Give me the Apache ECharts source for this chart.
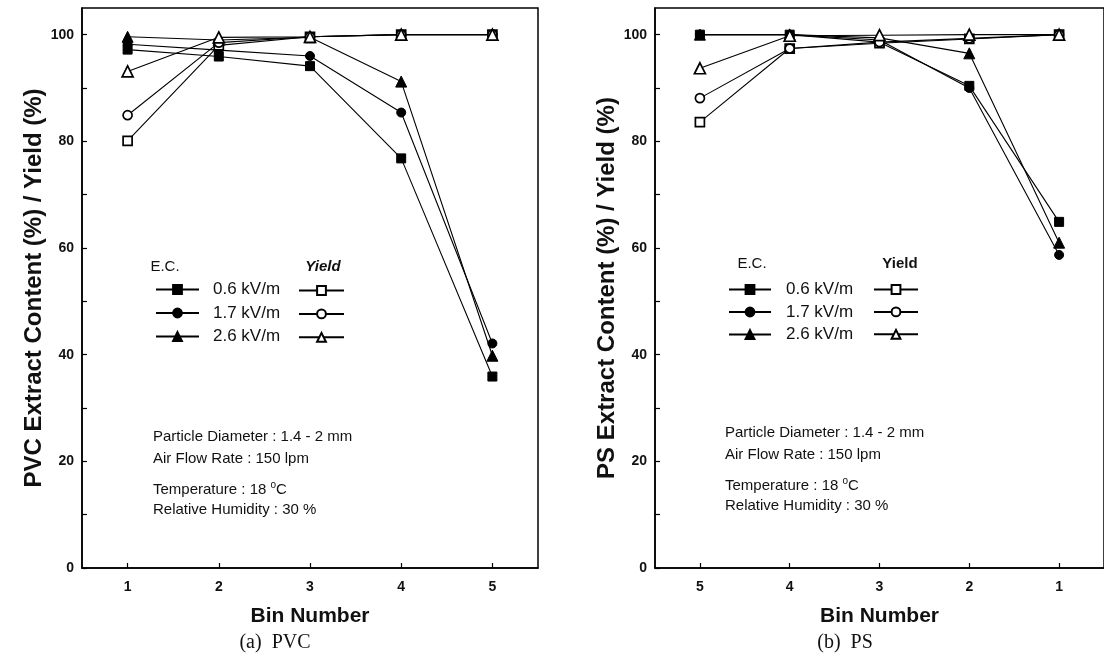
<!DOCTYPE html>
<html>
<head>
<meta charset="utf-8">
<script src="https://cdn.jsdelivr.net/npm/echarts@6/dist/echarts.min.js"></script>
<style>
  html, body { margin: 0; padding: 0; background: #fff; }
  #chart { width: 1104px; height: 663px; }
</style>
</head>
<body>
<div id="chart"></div>
<script>
// bin numbers and tick values
const bins = [1, 2, 3, 4, 5];
const yLabelValues = [0, 20, 40, 60, 80, 100];
const yTickValues = [0, 10, 20, 30, 40, 50, 60, 70, 80, 90, 100];

// (a) PVC, values for bin 1..5
const pvcEc06 = [97.2, 95.9, 94.1, 76.8, 35.9];
const pvcEc17 = [98.2, 97.1, 96.0, 85.4, 42.1];
const pvcEc26 = [99.6, 99.0, 99.5, 91.2, 39.8];
const pvcYield06 = [80.1, 98.0, 99.6, 100, 100];
const pvcYield17 = [84.9, 98.5, 99.6, 100, 100];
const pvcYield26 = [93.1, 99.5, 99.6, 100, 100];

// (b) PS, values for bin 1..5 (axis drawn 5 -> 1)
const psEc06 = [64.9, 90.4, 98.6, 100, 100];
const psEc17 = [58.7, 90.0, 99.0, 100, 100];
const psEc26 = [61.0, 96.5, 99.4, 100, 100];
const psYield06 = [100, 99.2, 98.4, 97.4, 83.6];
const psYield17 = [100, 99.3, 98.6, 97.4, 88.1];
const psYield26 = [100, 100, 99.9, 99.8, 93.7];

const ecNames = ['0.6 kV/m', '1.7 kV/m', '2.6 kV/m'];
const yieldNames = ['Yield 0.6', 'Yield 1.7', 'Yield 2.6'];
const symbols = ['rect', 'circle', 'triangle'];

const FONT = "'Liberation Sans', Arial, Helvetica, sans-serif";

const toPoints = arr => bins.map((b, i) => [b, arr[i]]);

const makeSeries = (name, arr, idx, filled, axisIdx) => ({
    name: name,
    type: 'line',
    xAxisIndex: axisIdx,
    yAxisIndex: axisIdx,
    data: toPoints(arr),
    symbol: symbols[idx],
    symbolSize: idx === 2 ? 11 : 9,
    showAllSymbol: true,
    lineStyle: { color: '#000', width: 1.1 },
    itemStyle: filled
        ? { color: '#000', borderColor: '#000', borderWidth: 1 }
        : { color: '#fff', borderColor: '#000', borderWidth: 1.7 },
    emphasis: { disabled: true },
    z: filled ? 3 : 4
});

const xAxisBase = (gridIndex, inverse) => ({
    type: 'value',
    gridIndex: gridIndex,
    min: 0.5,
    max: 5.5,
    inverse: inverse,
    name: 'Bin Number',
    nameLocation: 'middle',
    nameGap: 38,
    nameTextStyle: { fontFamily: FONT, fontWeight: 'bold', fontSize: 21, color: '#111' },
    axisLine: { show: true, lineStyle: { color: '#000', width: 1.5 } },
    axisTick: { show: true, inside: true, length: 5, customValues: bins, lineStyle: { color: '#000', width: 1.2 } },
    axisLabel: { customValues: bins, margin: 12, fontFamily: FONT, fontWeight: 'bold', fontSize: 14, color: '#111' },
    splitLine: { show: false }
});

const yAxisBase = (gridIndex, title) => ({
    type: 'value',
    gridIndex: gridIndex,
    min: 0,
    max: 105,
    name: title,
    nameLocation: 'middle',
    nameRotate: 90,
    nameGap: 33,
    nameTextStyle: { fontFamily: FONT, fontWeight: 'bold', fontSize: 24, color: '#111' },
    axisLine: { show: true, lineStyle: { color: '#000', width: 1.5 } },
    axisTick: { show: true, inside: true, length: 5, customValues: yTickValues, lineStyle: { color: '#000', width: 1.2 } },
    axisLabel: { customValues: yLabelValues, margin: 8, fontFamily: FONT, fontWeight: 'bold', fontSize: 14, color: '#111' },
    splitLine: { show: false }
});

const legendBase = (names, left, top, itemWidth, gap, padLeft, hideText) => ({
    data: names,
    orient: 'vertical',
    left: left,
    top: top,
    padding: 0,
    itemWidth: itemWidth,
    itemHeight: 11,
    itemGap: gap,
    selectedMode: false,
    formatter: hideText ? () => '' : name => name,
    textStyle: { fontFamily: FONT, fontSize: 17, color: '#111', padding: [0, 0, 0, padLeft] }
});

const noteLines = ['Particle Diameter : 1.4 - 2 mm', 'Air Flow Rate : 150 lpm',
    'Temperature : 18 {sup|o}C', 'Relative Humidity : 30 %'];
const noteOffsets = [0, 22, 51, 73];

const noteText = (x, y0) => noteLines.map((t, i) => ({
    type: 'text',
    left: x,
    top: y0 + noteOffsets[i] - 8,
    style: {
        text: t,
        fontFamily: FONT,
        fontSize: 15,
        fill: '#111',
        rich: { sup: { fontSize: 10, verticalAlign: 'bottom', padding: [0, 0, 9, 0] } }
    }
}));

const headText = (x, y, t, italic) => ({
    type: 'text',
    x: x,
    y: y,
    style: {
        text: t,
        fontFamily: FONT,
        fontSize: 15,
        fontWeight: t === 'Yield' ? 'bold' : 'normal',
        fontStyle: italic ? 'italic' : 'normal',
        fill: '#111',
        align: 'center',
        verticalAlign: 'middle'
    }
});

const caption = (x, t) => ({
    type: 'text',
    x: x,
    y: 643,
    style: {
        text: t,
        fontFamily: "'Liberation Serif', 'Times New Roman', serif",
        fontSize: 20,
        fill: '#111',
        align: 'center',
        verticalAlign: 'middle'
    }
});

const chart = echarts.init(document.getElementById('chart'), null, { renderer: 'canvas' });
chart.setOption({
    animation: false,
    backgroundColor: '#fff',
    grid: [
        { left: 82, top: 8, width: 456, height: 560, show: true, borderColor: '#000', borderWidth: 1.5, backgroundColor: 'transparent' },
        { left: 655, top: 8, width: 452, height: 560, show: true, borderColor: '#000', borderWidth: 1.5, backgroundColor: 'transparent' }
    ],
    xAxis: [xAxisBase(0, false), xAxisBase(1, true)],
    yAxis: [
        yAxisBase(0, 'PVC Extract Content (%) / Yield (%)'),
        yAxisBase(1, 'PS Extract Content (%) / Yield (%)')
    ],
    legend: [
        legendBase(ecNames, 155, 281, 43, 6.5, 9, false),
        legendBase(yieldNames, 298, 285, 45, 12.5, 0, true),
        legendBase(ecNames, 728, 281, 42, 5.5, 10, false),
        legendBase(yieldNames, 873, 284, 44, 11.5, 0, true)
    ],
    graphic: [
        headText(165, 267, 'E.C.', false),
        headText(323, 267, 'Yield', true),
        headText(752, 264, 'E.C.', false),
        headText(900, 264, 'Yield', false),
        ...noteText(153, 437),
        ...noteText(725, 433),
        caption(275, '(a)  PVC'),
        caption(845, '(b)  PS')
    ],
    series: [
        makeSeries(ecNames[0], pvcEc06, 0, true, 0),
        makeSeries(ecNames[1], pvcEc17, 1, true, 0),
        makeSeries(ecNames[2], pvcEc26, 2, true, 0),
        makeSeries(yieldNames[0], pvcYield06, 0, false, 0),
        makeSeries(yieldNames[1], pvcYield17, 1, false, 0),
        makeSeries(yieldNames[2], pvcYield26, 2, false, 0),
        makeSeries(ecNames[0], psEc06, 0, true, 1),
        makeSeries(ecNames[1], psEc17, 1, true, 1),
        makeSeries(ecNames[2], psEc26, 2, true, 1),
        makeSeries(yieldNames[0], psYield06, 0, false, 1),
        makeSeries(yieldNames[1], psYield17, 1, false, 1),
        makeSeries(yieldNames[2], psYield26, 2, false, 1)
    ]
});
</script>
</body>
</html>
